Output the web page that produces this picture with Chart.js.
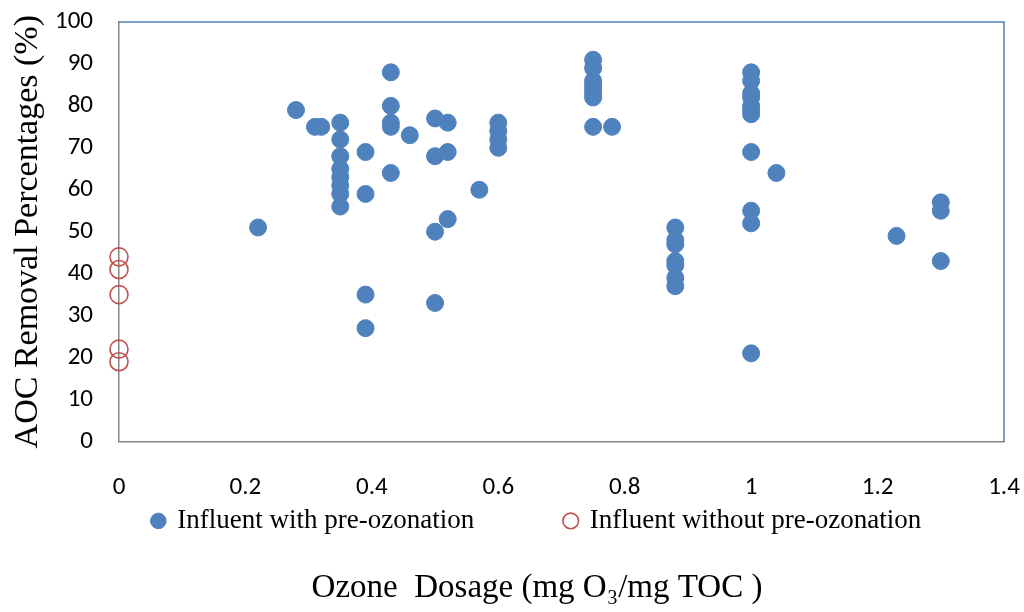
<!DOCTYPE html>
<html>
<head>
<meta charset="utf-8">
<script src="https://cdn.jsdelivr.net/npm/chart.js@4.4.1/dist/chart.umd.min.js"></script>
<style>
  html, body { margin: 0; padding: 0; background: #fff; }
  #wrap { width: 1024px; height: 612px; }
</style>
</head>
<body>
<div id="wrap"><canvas id="myChart" width="1024" height="612"></canvas></div>
<script>
// ozone dosage (mg O3 / mg TOC) and AOC removal (%)
const withOzoneX = [0.22, 0.28, 0.31, 0.32,
  0.35, 0.35, 0.35, 0.35, 0.35, 0.35, 0.35, 0.35,
  0.39, 0.39, 0.39, 0.39,
  0.43, 0.43, 0.43, 0.43, 0.43,
  0.46,
  0.50, 0.50, 0.50, 0.50,
  0.52, 0.52, 0.52,
  0.57,
  0.60, 0.60, 0.60, 0.60,
  0.75, 0.75, 0.75, 0.75, 0.75, 0.75, 0.75, 0.75,
  0.78,
  0.88, 0.88, 0.88, 0.88, 0.88, 0.88, 0.88,
  1.00, 1.00, 1.00, 1.00, 1.00, 1.00, 1.00, 1.00, 1.00, 1.00, 1.00,
  1.04, 1.23,
  1.30, 1.30, 1.30];
const withOzoneY = [51, 79, 75, 75,
  76, 72, 68, 65, 63, 61, 59, 56,
  69, 59, 35, 27,
  88, 80, 76, 75, 64,
  73,
  77, 68, 50, 33,
  76, 69, 53,
  60,
  76, 74, 72, 70,
  91, 89, 86, 85, 84, 83, 82, 75,
  75,
  51, 48, 47, 43, 42, 39, 37,
  88, 86, 83, 82, 80, 79, 78, 69, 55, 52, 21,
  64, 49,
  57, 55, 43];
const withoutOzoneX = [0, 0, 0, 0, 0];
const withoutOzoneY = [44, 41, 35, 22, 19];

const seriesNames = ['Influent with pre-ozonation', 'Influent without pre-ozonation'];
const xTickLabels = ['0', '0.2', '0.4', '0.6', '0.8', '1', '1.2', '1.4'];
const yTickLabels = ['0', '10', '20', '30', '40', '50', '60', '70', '80', '90', '100'];
const xTitle = 'Ozone  Dosage (mg O\u2083/mg TOC )';
const yTitle = 'AOC Removal Percentages (%)';

const blue = '#4F81BD';
const red = '#C0504D';
const serif = '"Liberation Serif", "Times New Roman", serif';
const sans = 'Carlito, Lato, sans-serif';

// blue frame on top/right of the plot area (Excel style)
const frame = {
  id: 'frame',
  beforeDatasetsDraw(chart) {
    const { ctx, chartArea: a } = chart;
    ctx.save();
    ctx.strokeStyle = blue;
    ctx.lineWidth = 1.5;
    ctx.beginPath();
    ctx.moveTo(a.left, a.top);
    ctx.lineTo(a.right, a.top);
    ctx.lineTo(a.right, a.bottom);
    ctx.stroke();
    ctx.restore();
  }
};

// centre legend + bottom title under the same spot as the original
const recenter = {
  id: 'recenter',
  afterLayout(chart) {
    if (chart.legend) {
      chart.legend.left = 70;
      chart.legend.right = 1004;
      chart.legend.width = 934;
    }
    if (chart.titleBlock) {
      chart.titleBlock.left = 70;
      chart.titleBlock.right = 1004;
      chart.titleBlock.width = 934;
    }
  }
};

const ctx = document.getElementById('myChart');
new Chart(ctx, {
  type: 'scatter',
  data: {
    datasets: [{
      label: seriesNames[0],
      data: withOzoneX.map((x, i) => ({ x: x, y: withOzoneY[i] })),
      backgroundColor: blue,
      borderColor: blue,
      pointRadius: 8.5,
      pointHoverRadius: 8.5,
      pointStyle: 'circle',
      clip: false
    }, {
      label: seriesNames[1],
      data: withoutOzoneX.map((x, i) => ({ x: x, y: withoutOzoneY[i] })),
      backgroundColor: 'rgba(255,255,255,0)',
      borderColor: red,
      borderWidth: 1.6,
      pointRadius: 9,
      pointHoverRadius: 9,
      pointStyle: 'circle',
      clip: false
    }]
  },
  options: {
    responsive: false,
    animation: false,
    layout: { padding: { top: 22, right: 20, left: 0, bottom: 0 } },
    scales: {
      x: {
        type: 'linear',
        min: 0,
        max: 1.4,
        afterBuildTicks(scale) {
          scale.ticks = xTickLabels.map(t => ({ value: parseFloat(t) }));
        },
        afterFit(scale) { scale.height = 56; },
        grid: { display: true, drawOnChartArea: false, drawTicks: true, tickLength: 31, tickColor: 'rgba(0,0,0,0)' },
        border: { display: true, color: '#868686', width: 1.5 },
        ticks: {
          padding: 0,
          color: '#000',
          font: { family: sans, size: 25 },
          callback: (v, i) => xTickLabels[i]
        }
      },
      y: {
        min: 0,
        max: 100,
        afterBuildTicks(scale) {
          scale.ticks = yTickLabels.map(t => ({ value: parseFloat(t) }));
        },
        afterFit(scale) { scale.width = 119; },
        grid: { display: true, drawOnChartArea: false, drawTicks: true, tickLength: 26, tickColor: 'rgba(0,0,0,0)' },
        border: { display: true, color: '#868686', width: 1.5 },
        ticks: {
          padding: 0,
          color: '#000',
          font: { family: sans, size: 25 },
          callback: (v, i) => yTickLabels[i]
        },
        title: {
          display: true,
          text: yTitle,
          color: '#000',
          padding: { top: 8, bottom: 0 },
          font: { family: serif, size: 34 }
        }
      }
    },
    plugins: {
      legend: {
        position: 'bottom',
        fullSize: false,
        labels: {
          usePointStyle: true,
          boxWidth: 11,
          boxHeight: 11,
          padding: 10,
          color: '#000',
          font: { family: serif, size: 27 },
          generateLabels(chart) {
            const items = Chart.defaults.plugins.legend.labels.generateLabels(chart);
            items[0].text = items[0].text + '            ';
            return items;
          }
        }
      },
      title: {
        display: true,
        position: 'bottom',
        fullSize: false,
        text: xTitle,
        color: '#000',
        padding: { top: 24, bottom: 4 },
        font: { family: serif, size: 33, weight: 'normal' }
      },
      tooltip: { enabled: false }
    }
  },
  plugins: [frame, recenter]
});
</script>
</body>
</html>
